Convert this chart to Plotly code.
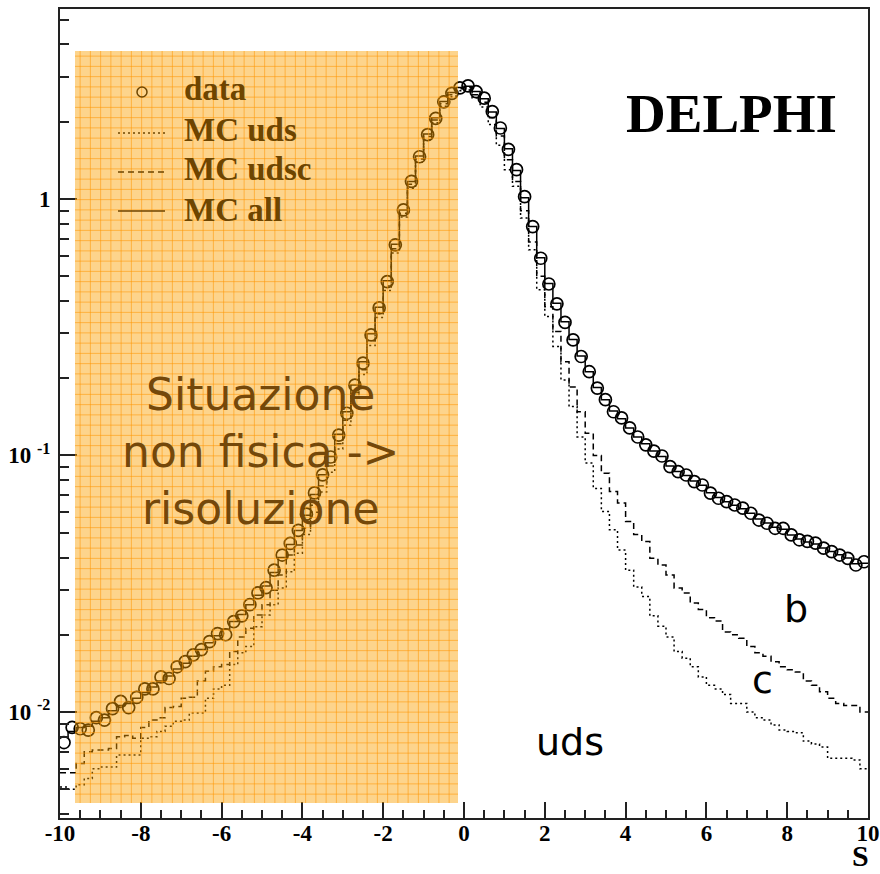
import numpy as np
import plotly.graph_objects as go

# ---------------- data (bin width 0.2, bins from -10 to 10) ----------------
bin_edges = np.linspace(-10, 10, 101)
bin_centers = 0.5 * (bin_edges[:-1] + bin_edges[1:])

data_vals = [
    # -9.9 .. -3.9
    0.0076, 0.0087, 0.0086, 0.0085, 0.0095, 0.0093, 0.0103, 0.0110, 0.0104, 0.0114,
    0.0123, 0.0123, 0.0137, 0.0135, 0.0150, 0.0157, 0.0167, 0.0175, 0.0188, 0.0202,
    0.0200, 0.0225, 0.0237, 0.0262, 0.0291, 0.0305, 0.0357, 0.0409, 0.0454, 0.0510,
    0.0590,
    # -3.7 .. -0.1
    0.0714, 0.0840, 0.0986, 0.120, 0.146, 0.188, 0.229, 0.295, 0.376, 0.476,
    0.662, 0.906, 1.17, 1.46, 1.78, 2.06, 2.39, 2.58, 2.71,
    # 0.1 .. 9.9
    2.76, 2.62, 2.47, 2.19, 1.89, 1.56, 1.30, 1.02, 0.780, 0.587,
    0.466, 0.390, 0.330, 0.282, 0.243, 0.212, 0.183, 0.165, 0.148, 0.140,
    0.128, 0.118, 0.110, 0.104, 0.0995, 0.0904, 0.0864, 0.0839, 0.0791, 0.0767,
    0.0713, 0.0681, 0.0661, 0.0641, 0.0623, 0.0595, 0.0560, 0.0544, 0.0520, 0.0520,
    0.0490, 0.0469, 0.0462, 0.0455, 0.0435, 0.0422, 0.0409, 0.0397, 0.0374, 0.0385,
]

mc_all_vals = [
    0.0080, 0.0084, 0.0087, 0.0088, 0.0092, 0.0095, 0.0101, 0.0106, 0.0108, 0.0113,
    0.0119, 0.0125, 0.0132, 0.0138, 0.0147, 0.0155, 0.0165, 0.0175, 0.0186, 0.0198,
    0.0210, 0.0225, 0.0240, 0.0262, 0.0285, 0.0310, 0.0350, 0.0400, 0.0450, 0.0510,
    0.0585,
    0.0705, 0.0840, 0.0990, 0.121, 0.148, 0.188, 0.232, 0.298, 0.378, 0.480,
    0.665, 0.905, 1.17, 1.47, 1.79, 2.07, 2.40, 2.60, 2.72,
    2.75, 2.62, 2.46, 2.18, 1.88, 1.57, 1.29, 1.01, 0.78, 0.59,
    0.468, 0.392, 0.332, 0.283, 0.244, 0.212, 0.184, 0.165, 0.149, 0.139,
    0.128, 0.118, 0.111, 0.104, 0.0990, 0.0910, 0.0865, 0.0835, 0.0795, 0.0765,
    0.0715, 0.0685, 0.0660, 0.0640, 0.0620, 0.0595, 0.0565, 0.0545, 0.0525, 0.0515,
    0.0490, 0.0472, 0.0460, 0.0452, 0.0436, 0.0422, 0.0410, 0.0398, 0.0378, 0.0380,
]

mc_udsc_vals = [
    0.0058, 0.0058, 0.0063, 0.0070, 0.0071, 0.0071, 0.0072, 0.0080, 0.0081, 0.0079,
    0.0087, 0.0093, 0.0095, 0.0104, 0.0105, 0.0113, 0.0114, 0.0132, 0.0144, 0.0150,
    0.0153, 0.0172, 0.0196, 0.0212, 0.0239, 0.0262, 0.0298, 0.0342, 0.0409, 0.0448,
    0.0520,
    0.064, 0.076, 0.091, 0.111, 0.137, 0.176, 0.216, 0.280, 0.360, 0.458,
    0.640, 0.880, 1.14, 1.43, 1.75, 2.03, 2.35, 2.55, 2.69,
    2.72, 2.55, 2.38, 2.07, 1.76, 1.42, 1.17, 0.90, 0.68, 0.50,
    0.380, 0.304, 0.232, 0.185, 0.148, 0.122, 0.100, 0.0853, 0.0724, 0.0652,
    0.0553, 0.0492, 0.0462, 0.0397, 0.0374, 0.0342, 0.0304, 0.0291, 0.0266, 0.0251,
    0.0233, 0.0226, 0.0205, 0.0200, 0.0194, 0.0180, 0.0170, 0.0165, 0.0157, 0.0150,
    0.0146, 0.0143, 0.0132, 0.0127, 0.0120, 0.0113, 0.0108, 0.0106, 0.0106, 0.0100,
]

mc_uds_vals = [
    0.0051, 0.0050, 0.0052, 0.0055, 0.0060, 0.0061, 0.0061, 0.0068, 0.0068, 0.0068,
    0.0079, 0.0080, 0.0084, 0.0088, 0.0092, 0.0093, 0.0099, 0.0099, 0.0113, 0.0123,
    0.0127, 0.0153, 0.0170, 0.0180, 0.0215, 0.0239, 0.0262, 0.0304, 0.0352, 0.0416,
    0.0492,
    0.060, 0.072, 0.086, 0.106, 0.131, 0.168, 0.207, 0.268, 0.345, 0.440,
    0.615, 0.850, 1.10, 1.39, 1.70, 1.98, 2.30, 2.50, 2.64,
    2.66, 2.48, 2.28, 1.95, 1.62, 1.30, 1.12, 0.843, 0.633, 0.442,
    0.348, 0.266, 0.197, 0.155, 0.118, 0.0934, 0.0744, 0.0605, 0.0513, 0.0428,
    0.0357, 0.0307, 0.0282, 0.0237, 0.0216, 0.0196, 0.0172, 0.0162, 0.0150, 0.0137,
    0.0127, 0.0123, 0.0117, 0.0108, 0.0108, 0.0100, 0.0095, 0.0093, 0.0089, 0.0085,
    0.0084, 0.0083, 0.0077, 0.0075, 0.0073, 0.0066, 0.0066, 0.0066, 0.0065, 0.0060,
]

for arr in (data_vals, mc_all_vals, mc_udsc_vals, mc_uds_vals):
    assert len(arr) == 100, len(arr)

x_ticks = [-10, -8, -6, -4, -2, 0, 2, 4, 6, 8, 10]
x_tick_text = ["-10", "-8", "-6", "-4", "-2", "0", "2", "4", "6", "8", "10"]
y_ticks = [0.01, 0.1, 1]
y_tick_text = ["10 <sup>-2</sup>", "10 <sup>-1</sup>", "1"]

legend_labels = ["data", "MC uds", "MC udsc", "MC all"]
overlay_text = "Situazione<br>non fisica -><br>risoluzione"

# ---------------- figure ----------------
W, H = 880, 874
ML, MR, MT, MB = 60, 12, 9, 56
PW, PH = W - ML - MR, H - MT - MB


def px_x(p):
    return (p - ML) / PW


def px_y(p):
    return (H - MB - p) / PH


fig = go.Figure()


def step_y(v):
    return list(v) + [v[-1]]


fig.add_trace(go.Scatter(x=bin_edges, y=step_y(mc_uds_vals), mode="lines", line_shape="hv",
                         line=dict(color="black", width=1.5, dash="2px,3px"),
                         name=legend_labels[1], showlegend=False))
fig.add_trace(go.Scatter(x=bin_edges, y=step_y(mc_udsc_vals), mode="lines", line_shape="hv",
                         line=dict(color="black", width=1.5, dash="6px,4px"),
                         name=legend_labels[2], showlegend=False))
fig.add_trace(go.Scatter(x=bin_edges, y=step_y(mc_all_vals), mode="lines", line_shape="hv",
                         line=dict(color="black", width=1.5),
                         name=legend_labels[3], showlegend=False))
fig.add_trace(go.Scatter(x=bin_centers, y=data_vals, mode="markers",
                         marker=dict(symbol="circle-open", size=12, color="black",
                                     line=dict(width=1.7, color="black")),
                         name=legend_labels[0], showlegend=False))

shapes = []
# orange semi-transparent overlay with grid
ox0, ox1, oy0, oy1 = 75, 458, 51, 803
shapes.append(dict(type="rect", xref="paper", yref="paper",
                   x0=px_x(ox0), x1=px_x(ox1), y0=px_y(oy1), y1=px_y(oy0),
                   fillcolor="rgba(250,160,0,0.45)", line=dict(width=0), layer="above"))
step = 10.25
gx = ox0 + step / 2
while gx < ox1:
    shapes.append(dict(type="line", xref="paper", yref="paper",
                       x0=px_x(gx), x1=px_x(gx), y0=px_y(oy1), y1=px_y(oy0),
                       line=dict(color="rgba(255,150,0,0.55)", width=1), layer="above"))
    gx += step
gy = oy0 + step / 2
while gy < oy1:
    shapes.append(dict(type="line", xref="paper", yref="paper",
                       x0=px_x(ox0), x1=px_x(ox1), y0=px_y(gy), y1=px_y(gy),
                       line=dict(color="rgba(255,150,0,0.55)", width=1), layer="above"))
    gy += step

brown = "#6e4500"
# legend symbols
shapes.append(dict(type="circle", xref="paper", yref="paper",
                   xsizemode="pixel", ysizemode="pixel",
                   xanchor=px_x(142), yanchor=px_y(92),
                   x0=-5, x1=5, y0=-5, y1=5,
                   line=dict(color=brown, width=1.5), layer="above"))
for yy, dash in [(133, "2px,3px"), (172, "6px,4px"), (211, "solid")]:
    shapes.append(dict(type="line", xref="paper", yref="paper",
                       x0=px_x(118), x1=px_x(165), y0=px_y(yy), y1=px_y(yy),
                       line=dict(color=brown, width=1.5, dash=dash), layer="above"))

annotations = []
serif = "Liberation Serif"
for lab, yc in zip(legend_labels, [89, 130, 169, 210]):
    annotations.append(dict(text=lab, xref="paper", yref="paper", x=px_x(182), y=px_y(yc),
                            xanchor="left", yanchor="middle", showarrow=False,
                            font=dict(family=serif, size=33, color=brown, weight="bold")))

annotations.append(dict(text="DELPHI", xref="paper", yref="paper", x=px_x(731), y=px_y(113),
                        xanchor="center", yanchor="middle", showarrow=False,
                        font=dict(family=serif, size=55, color="black", weight="bold")))

annotations.append(dict(text=overlay_text, xref="paper", yref="paper", x=px_x(260), y=px_y(452),
                        xanchor="center", yanchor="middle", showarrow=False, align="center",
                        font=dict(family="DejaVu Sans", size=44, color="#74480a")))

for lab, xc, yc in [("b", 796, 609), ("c", 762, 680), ("uds", 570, 742)]:
    annotations.append(dict(text=lab, xref="paper", yref="paper", x=px_x(xc), y=px_y(yc),
                            xanchor="center", yanchor="middle", showarrow=False,
                            font=dict(family="DejaVu Sans", size=38, color="black")))

annotations.append(dict(text="<b>S</b>", xref="paper", yref="paper", x=px_x(870), y=px_y(873),
                        xanchor="right", yanchor="bottom", showarrow=False, borderpad=0,
                        font=dict(family=serif, size=30, color="black", weight="bold")))

x_minor = [v for v in np.arange(-10, 10.01, 0.5) if abs(v / 2 - round(v / 2)) > 1e-6]
y_minor = [m * 10.0 ** e for e in (-3, -2, -1, 0) for m in range(2, 10)]
y_minor = [v for v in y_minor if 0.00386 <= v <= 5.5]

axis_font = dict(family=serif, size=23, color="black", weight="bold")

fig.update_layout(
    width=W, height=H,
    margin=dict(l=ML, r=MR, t=MT, b=MB, pad=0, autoexpand=False),
    paper_bgcolor="white", plot_bgcolor="white",
    showlegend=False,
    shapes=shapes,
    annotations=annotations,
    xaxis=dict(range=[-10, 10], tickmode="array", tickvals=x_ticks, ticktext=x_tick_text,
               ticks="inside", ticklen=16, tickwidth=2, tickcolor="#222", automargin=False,
               showline=True, linewidth=2, linecolor="#222", mirror=True,
               showgrid=False, zeroline=False, tickfont=axis_font, ticklabelstandoff=-7,
               minor=dict(tickmode="array", tickvals=x_minor, ticks="inside", ticklen=8,
                          tickwidth=1.5, tickcolor="#222", showgrid=False)),
    yaxis=dict(type="log", range=[np.log10(0.00386), np.log10(5.5)],
               tickmode="array", tickvals=y_ticks, ticktext=y_tick_text, automargin=False,
               ticks="inside", ticklen=17, tickwidth=2, tickcolor="#222",
               showline=True, linewidth=2, linecolor="#222", mirror=True,
               showgrid=False, zeroline=False, tickfont=axis_font, ticklabelstandoff=3,
               minor=dict(tickmode="array", tickvals=y_minor, ticks="inside", ticklen=9,
                          tickwidth=1.5, tickcolor="#222", showgrid=False)),
)

fig.write_html("out.html", config={"displayModeBar": False},
               post_script="document.body.style.margin='0px';document.body.style.padding='0px';")
